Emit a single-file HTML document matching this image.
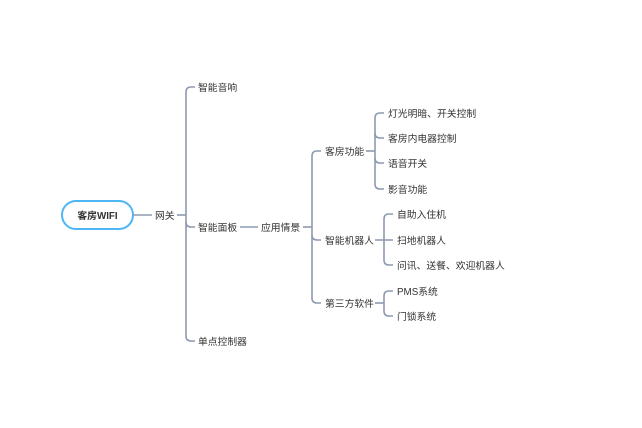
<!DOCTYPE html>
<html><head><meta charset="utf-8"><style>
html,body{margin:0;padding:0;background:#fff;}
svg{display:block;}
text{font-family:"Liberation Sans","Noto Sans CJK SC",sans-serif;font-size:9.8px;fill:#333;dominant-baseline:central;}
path,line{stroke:#8e9aaf;stroke-width:1.6;fill:none;}
</style></head><body>
<svg width="642" height="428" viewBox="0 0 642 428">
<rect x="62" y="201" width="71" height="28" rx="14" fill="#fff" stroke="#4fb6f5" stroke-width="2"/>
<g transform="translate(0,1)">
<text x="97.5" y="215.5" text-anchor="middle" style="font-weight:bold">客房WIFI</text>
<text x="155" y="215.5">网关</text>
<text x="198" y="87.5">智能音响</text>
<text x="198" y="227.5">智能面板</text>
<text x="198" y="341.5">单点控制器</text>
<text x="261" y="227.5">应用情景</text>
<text x="325" y="151.5">客房功能</text>
<text x="325" y="240.5">智能机器人</text>
<text x="325" y="303.5">第三方软件</text>
<text x="388" y="113.5">灯光明暗、开关控制</text>
<text x="388" y="138.5">客房内电器控制</text>
<text x="388" y="163.5">语音开关</text>
<text x="388" y="189.5">影音功能</text>
<text x="397" y="214.5">自助入住机</text>
<text x="397" y="240.5">扫地机器人</text>
<text x="397" y="265.5">问讯、送餐、欢迎机器人</text>
<text x="397" y="291.5">PMS系统</text>
<text x="397" y="316.5">门锁系统</text>
</g>
<line x1="133" y1="215" x2="152" y2="215"/>
<line x1="177" y1="215" x2="186" y2="215"/>
<path d="M195 87 H191 Q186 87 186 92 V336 Q186 341 191 341 H195"/>
<path d="M186 222 Q186 227 191 227 H195"/>
<line x1="240" y1="227" x2="258" y2="227"/>
<line x1="303" y1="227" x2="312" y2="227"/>
<path d="M321 151 H317 Q312 151 312 156 V298 Q312 303 317 303 H321"/>
<path d="M312 235 Q312 240 317 240 H321"/>
<line x1="366" y1="151" x2="375" y2="151"/>
<path d="M384 113 H380 Q375 113 375 118 V184 Q375 189 380 189 H384"/>
<path d="M375 133 Q375 138 380 138 H384"/>
<path d="M375 158 Q375 163 380 163 H384"/>
<line x1="375" y1="240" x2="393" y2="240"/>
<path d="M393 214 H389 Q384 214 384 219 V260 Q384 265 389 265 H393"/>
<line x1="375" y1="303" x2="384" y2="303"/>
<path d="M393 291 H389 Q384 291 384 296 V311 Q384 316 389 316 H393"/>
</svg>
</body></html>
